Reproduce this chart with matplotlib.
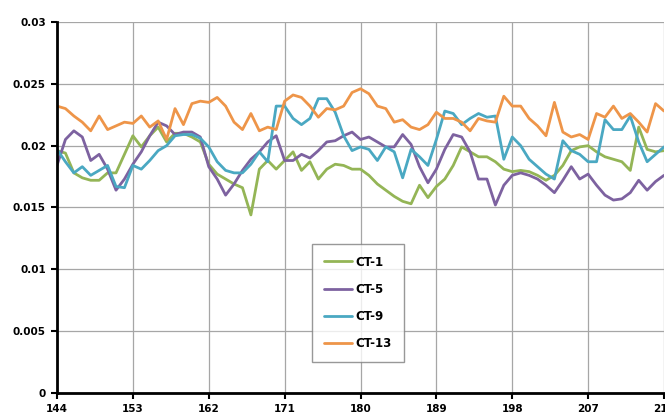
import matplotlib
matplotlib.use("Agg")
import matplotlib.pyplot as plt
import numpy as np

days = list(range(144, 217))

ct1 = [0.0196, 0.0194, 0.0178, 0.0174, 0.0172, 0.0172, 0.0178, 0.0178, 0.0193, 0.0208,
       0.0199, 0.0208, 0.0215, 0.0203, 0.0210, 0.0210, 0.0207, 0.0203, 0.0185, 0.0177,
       0.0173, 0.0169, 0.0166, 0.0144, 0.0181, 0.0188, 0.0181, 0.0188, 0.0195, 0.0180,
       0.0187, 0.0173, 0.0181, 0.0185, 0.0184, 0.0181, 0.0181, 0.0176, 0.0169, 0.0164,
       0.0159, 0.0155, 0.0153, 0.0168, 0.0158, 0.0167, 0.0173, 0.0184, 0.0199, 0.0195,
       0.0191, 0.0191, 0.0187, 0.0181, 0.0179, 0.0180, 0.0179, 0.0176, 0.0172, 0.0176,
       0.0184, 0.0196, 0.0199, 0.0200, 0.0195, 0.0191, 0.0189, 0.0187, 0.0180, 0.0215,
       0.0197, 0.0195, 0.0196]

ct5 = [0.0184, 0.0205, 0.0212, 0.0207, 0.0188, 0.0193, 0.0181, 0.0164, 0.0173, 0.0185,
       0.0195, 0.0208, 0.0219, 0.0216, 0.0209, 0.0211, 0.0211, 0.0207, 0.0183, 0.0173,
       0.0160, 0.0169, 0.0180, 0.0189, 0.0195, 0.0203, 0.0208, 0.0188, 0.0188, 0.0193,
       0.0190, 0.0196, 0.0203, 0.0204, 0.0208, 0.0211, 0.0205, 0.0207, 0.0203, 0.0199,
       0.0199, 0.0209, 0.0201, 0.0183, 0.0170, 0.0181, 0.0197, 0.0209, 0.0207, 0.0195,
       0.0173, 0.0173, 0.0152, 0.0168, 0.0176, 0.0178, 0.0176, 0.0173, 0.0168, 0.0162,
       0.0172, 0.0183, 0.0173, 0.0177, 0.0168, 0.0160, 0.0156, 0.0157, 0.0162, 0.0172,
       0.0164, 0.0171, 0.0176]

ct9 = [0.0197, 0.0187, 0.0178, 0.0183, 0.0176, 0.0180, 0.0184, 0.0167, 0.0166, 0.0184,
       0.0181, 0.0188, 0.0196, 0.0200, 0.0208, 0.0209, 0.0209, 0.0206, 0.0199, 0.0187,
       0.0180, 0.0178, 0.0178, 0.0185, 0.0195, 0.0187, 0.0232, 0.0232, 0.0222, 0.0217,
       0.0222, 0.0238, 0.0238, 0.0227, 0.0208, 0.0196, 0.0199, 0.0197, 0.0188, 0.0199,
       0.0195, 0.0174, 0.0197, 0.0191, 0.0184, 0.0205, 0.0228, 0.0226, 0.0217, 0.0222,
       0.0226, 0.0223, 0.0224, 0.0189, 0.0207, 0.0200, 0.0189, 0.0183, 0.0177, 0.0173,
       0.0204, 0.0196, 0.0193, 0.0187, 0.0187, 0.0221, 0.0213, 0.0213, 0.0224, 0.0203,
       0.0187, 0.0193, 0.0199]

ct13 = [0.0232, 0.0230, 0.0224, 0.0219, 0.0212, 0.0224, 0.0213, 0.0216, 0.0219, 0.0218,
        0.0224, 0.0215, 0.0220, 0.0205, 0.0230, 0.0217, 0.0234, 0.0236, 0.0235, 0.0239,
        0.0232, 0.0219, 0.0213, 0.0226, 0.0212, 0.0215, 0.0213, 0.0236, 0.0241, 0.0239,
        0.0232, 0.0223, 0.0230, 0.0229, 0.0232, 0.0243, 0.0246, 0.0242, 0.0232, 0.0230,
        0.0219, 0.0221, 0.0215, 0.0213, 0.0217, 0.0227, 0.0222, 0.0222, 0.0219, 0.0212,
        0.0222, 0.0220, 0.0219, 0.0240, 0.0232, 0.0232, 0.0222, 0.0216, 0.0208, 0.0235,
        0.0211, 0.0207, 0.0209, 0.0205, 0.0226, 0.0223, 0.0232, 0.0222, 0.0226, 0.0219,
        0.0211, 0.0234, 0.0228]

series = [("CT-1", ct1, "#94B556"), ("CT-5", ct5, "#7D62A0"),
          ("CT-9", ct9, "#4AA8C2"), ("CT-13", ct13, "#EE9549")]

xticks = [144, 153, 162, 171, 180, 189, 198, 207, 216]
yticks = [0, 0.005, 0.01, 0.015, 0.02, 0.025, 0.03]
ylabels = ["0", "0.005", "0.01", "0.015", "0.02", "0.025", "0.03"]

fig = plt.figure(figsize=(6.65, 4.16), dpi=100)
ax = fig.add_axes([57/665, 1-393/416, 607/665, 371/416])

for name, vals, col in series:
    ax.plot(days, vals, color=col, lw=2.0, label=name,
            solid_joinstyle="round", solid_capstyle="round")

ax.set_xlim(144, 216)
ax.set_ylim(0, 0.03)
ax.set_xticks(xticks)
ax.set_xticklabels([str(t) for t in xticks], fontsize=7.5, fontweight="bold")
ax.set_yticks(yticks)
ax.set_yticklabels(ylabels, fontsize=7.5, fontweight="bold")
ax.grid(True, color="#a6a6a6", lw=0.9)
ax.set_axisbelow(True)
for s in ["top", "right"]:
    ax.spines[s].set_visible(False)
for s in ["left", "bottom"]:
    ax.spines[s].set_linewidth(2)
    ax.spines[s].set_color("black")
ax.tick_params(axis="both", direction="out", length=4, width=1.5, pad=4)

leg = ax.legend(loc="lower left", bbox_to_anchor=(0.42, 0.084),
                prop={"weight": "bold", "size": 8.5}, frameon=True, fancybox=False,
                edgecolor="#7f7f7f", labelspacing=1.2, handlelength=2.4,
                handletextpad=0.3, borderpad=1.0, borderaxespad=0)
leg.get_frame().set_linewidth(1.0)

fig.savefig("out.png", dpi=100)
